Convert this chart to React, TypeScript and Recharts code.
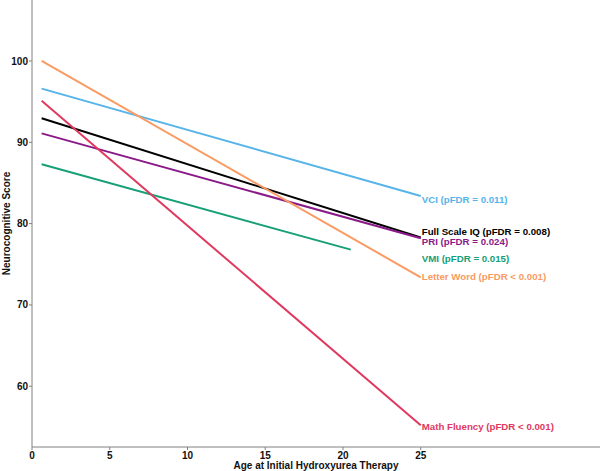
import React from 'react';
import { LineChart, Line, XAxis, YAxis, ReferenceDot } from 'recharts';

// fitted line end points (age in years, score)
const startAge = 0.62;
const endAge = 25;

const seriesNames = ['VCI', 'Full Scale IQ', 'PRI', 'VMI', 'Letter Word', 'Math Fluency'];
const pfdrText = ['= 0.011', '= 0.008', '= 0.024', '= 0.015', '< 0.001', '< 0.001'];
const startScores = [96.6, 92.95, 91.1, 87.3, 100.0, 95.1];
const endScores = [83.4, 78.3, 78.2, 76.8, 73.4, 55.2];
const endAges = [endAge, endAge, endAge, 20.5, endAge, endAge];
// where each text label sits (score units), nudged apart like the original
const labelScores = [82.9, 79.0, 77.75, 75.75, 73.45, 55.1];

const xTicks = [0, 5, 10, 15, 20, 25];
const yTicks = [60, 70, 80, 90, 100];

const COLORS = ['#56B4E9', '#000000', '#8B1A89', '#17A077', '#F99B62', '#E0395F'];
const FONT = '"Liberation Sans", Arial, sans-serif';
const AXIS_GREY = '#808080';

function YTitle(props: any) {
  const vb = props.viewBox;
  const cx = vb.x + 7;
  const cy = vb.y + vb.height / 2;
  return (
    <text
      x={cx}
      y={cy}
      textAnchor="middle"
      dominantBaseline="middle"
      transform={`rotate(-90 ${cx} ${cy})`}
      fontSize={10}
      fontWeight={700}
      fontFamily={FONT}
      fill="#111"
    >
      Neurocognitive Score
    </text>
  );
}

export default function App() {
  const lines = seriesNames.map((name, i) => ({
    name,
    color: COLORS[i],
    data: [
      { x: startAge, y: startScores[i] },
      { x: endAges[i], y: endScores[i] },
    ],
  }));

  const tickStyle = { fontSize: 10, fontWeight: 700, fill: '#111', fontFamily: FONT };

  return (
    <div style={{ position: 'absolute', left: 0, top: 0, background: '#fff' }}>
      <LineChart width={600} height={471} margin={{ top: 0, right: 0, bottom: 0, left: 0 }}>
        <XAxis
          type="number"
          dataKey="x"
          domain={[0, 36.53]}
          ticks={xTicks}
          allowDataOverflow
          height={24}
          tickSize={3}
          tickMargin={2}
          stroke={AXIS_GREY}
          tick={tickStyle}
          label={{
            value: 'Age at Initial Hydroxyurea Therapy',
            position: 'insideBottom',
            offset: 2,
            fontSize: 10,
            fontWeight: 700,
            fill: '#111',
            fontFamily: FONT,
          }}
        />
        <YAxis
          type="number"
          dataKey="y"
          domain={[52.53, 107.5]}
          ticks={yTicks}
          allowDataOverflow
          width={32}
          tickSize={3}
          tickMargin={1}
          stroke={AXIS_GREY}
          tick={tickStyle}
          label={<YTitle />}
        />
        {lines.map((s) => (
          <Line
            key={s.name}
            data={s.data}
            dataKey="y"
            type="linear"
            stroke={s.color}
            strokeWidth={2}
            dot={false}
            activeDot={false}
            isAnimationActive={false}
          />
        ))}
        {seriesNames.map((name, i) => (
          <ReferenceDot
            key={name + '-label'}
            x={endAge}
            y={labelScores[i]}
            r={0}
            fill="none"
            stroke="none"
            ifOverflow="visible"
            label={{
              value: `${name} (pFDR ${pfdrText[i]})`,
              position: 'right',
              offset: 1,
              fill: COLORS[i],
              fontSize: 9.7,
              fontWeight: 700,
              fontFamily: FONT,
            }}
          />
        ))}
      </LineChart>
    </div>
  );
}
